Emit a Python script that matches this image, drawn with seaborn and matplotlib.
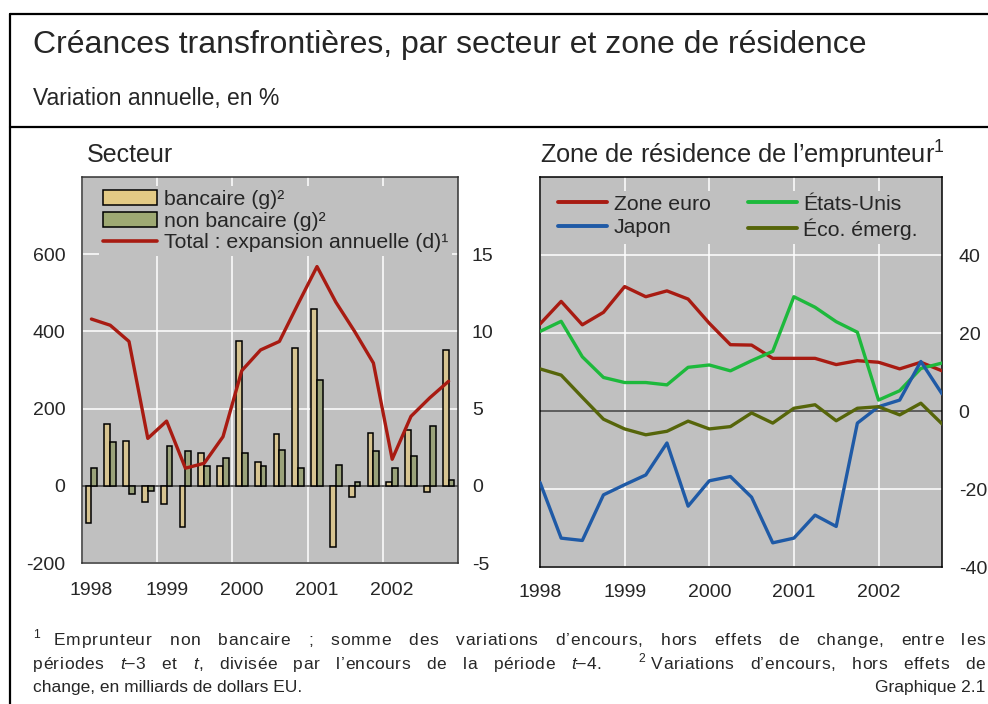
import numpy as np
import pandas as pd
import matplotlib.pyplot as plt
import seaborn as sns
from matplotlib.lines import Line2D
from matplotlib.patches import Patch

# --- données ---
trimestres = list(range(20))  # 1998T1 ... 2002T4
bancaire = [-96, 159, 117, -43, -48, -107, 85, 50, 374, 61,
            133, 357, 457, -158, -29, 137, 9, 144, -17, 352]
non_bancaire = [46, 113, -22, -13, 102, 91, 50, 71, 85, 50,
                93, 46, 274, 55, 9, 91, 46, 77, 155, 15]
total = [10.8, 10.4, 9.35, 3.07, 4.19, 1.14, 1.46, 3.18, 7.46, 8.8,
         9.35, 11.8, 14.2, 11.9, 10.0, 7.95, 1.72, 4.5, 5.7, 6.77]

dates = [1998 + i / 4 for i in range(20)]
zone_euro = [22.3, 28.1, 22.1, 25.3, 31.9, 29.3, 30.8, 28.7, 22.5, 17.0,
             16.9, 13.5, 13.5, 13.5, 11.9, 12.9, 12.5, 10.8, 12.5, 10.3]
etats_unis = [20.4, 23.0, 13.9, 8.6, 7.3, 7.3, 6.7, 11.2, 11.8, 10.3,
              12.9, 15.3, 29.3, 26.6, 22.9, 20.2, 2.8, 5.2, 10.9, 12.3]
japon = [-18.3, -32.6, -33.2, -21.5, -18.9, -16.4, -8.2, -24.4, -17.9, -16.8,
         -22.1, -33.8, -32.6, -26.7, -29.6, -3.1, 1.1, 2.8, 12.7, 4.4]
eco_emerg = [10.8, 9.2, 3.5, -2.1, -4.6, -6.1, -5.2, -2.6, -4.6, -4.0,
             -0.5, -3.1, 0.7, 1.6, -2.5, 0.7, 1.1, -1.0, 2.0, -3.3]

annees = ["1998", "1999", "2000", "2001", "2002"]

ROUGE = "#A81B12"
VERT = "#1DB93C"
BLEU = "#1F5AA6"
OLIVE = "#56650A"
JAUNE = "#E3CA85"
KAKI = "#9EA973"
GRIS = "#C0C0C0"

W, H = 988, 704

sns.set_style("white", {"axes.facecolor": GRIS, "grid.color": "white"})
plt.rcParams['font.family'] = ['Liberation Sans', 'DejaVu Sans']
plt.rcParams['axes.unicode_minus'] = False
plt.rcParams['mathtext.fontset'] = 'custom'
plt.rcParams['mathtext.rm'] = 'Liberation Sans'
plt.rcParams['mathtext.it'] = 'Liberation Sans:italic'
plt.rcParams['mathtext.default'] = 'regular'

fig = plt.figure(figsize=(W / 100, H / 100), dpi=100)


def box(x0, y0, x1, y1):
    # position en pixels (origine en haut à gauche) -> coordonnées figure
    return [x0 / W, 1 - y1 / H, (x1 - x0) / W, (y1 - y0) / H]


def fx(x):
    return x / W


def fy(y):
    return 1 - y / H


# cadre
for (xa, ya, xb, yb) in [(10, 14, 988, 14), (10, 14, 10, 704), (10, 127, 988, 127)]:
    fig.add_artist(Line2D([fx(xa), fx(xb)], [fy(ya), fy(yb)], color="black", lw=1.6))

fig.text(fx(33), fy(45), "Créances transfrontières, par secteur et zone de résidence",
         fontsize=23, va="center", ha="left")
fig.text(fx(33), fy(99), "Variation annuelle, en %", fontsize=16.5, va="center", ha="left")

# ---------------- panneau gauche : Secteur ----------------
ax = fig.add_axes(box(82, 177, 458, 563))
df_bars = pd.DataFrame({
    "q": trimestres * 2,
    "valeur": bancaire + non_bancaire,
    "serie": ["bancaire"] * 20 + ["non bancaire"] * 20,
})
sns.barplot(data=df_bars, x="q", y="valeur", hue="serie",
            palette={"bancaire": JAUNE, "non bancaire": KAKI},
            width=0.62, edgecolor="black", linewidth=1.1,
            errorbar=None, legend=False, ax=ax, zorder=3)
ax.axhline(0, color="#333333", lw=1.1, zorder=2)
ax.set_xlim(-0.5, 19.5)
ax.set_ylim(-200, 800)
ax.set_yticks([-200, 0, 200, 400, 600])
ax.set_xticks([-0.5, 3.5, 7.5, 11.5, 15.5])
ax.set_xticklabels([])
ax.set_xticks([0, 4, 8, 12, 16], minor=True)
ax.set_xticklabels(annees, minor=True)
ax.grid(True, which="major", color="white", lw=1.1)
ax.set_axisbelow(True)
ax.tick_params(which="both", length=0, labelsize=14)
ax.tick_params(axis="y", pad=12)
ax.tick_params(axis="x", which="minor", pad=14)
ax.set_xlabel("")
ax.set_ylabel("")
for s in ax.spines.values():
    s.set_color("#333333")
    s.set_linewidth(1.1)

ax2 = ax.twinx()
sns.lineplot(x=trimestres, y=total, color=ROUGE, lw=2.4, ax=ax2, zorder=4)
ax2.set_ylim(-5, 20)
ax2.set_yticks([-5, 0, 5, 10, 15])
ax2.grid(False)
ax2.tick_params(length=0, labelsize=14, pad=10)
ax2.set_xlabel("")
ax2.set_ylabel("")
for s in ax2.spines.values():
    s.set_visible(False)

handles = [Patch(facecolor=JAUNE, edgecolor="black", lw=1.1),
           Patch(facecolor=KAKI, edgecolor="black", lw=1.1),
           Line2D([], [], color=ROUGE, lw=2.6)]
labels = ["bancaire (g)²", "non bancaire (g)²", "Total : expansion annuelle (d)¹"]
leg = ax2.legend(handles, labels, loc="upper left", bbox_to_anchor=(0.045, 0.977),
                 frameon=True, facecolor=GRIS, edgecolor="none", framealpha=1,
                 fontsize=15.3, handlelength=2.55, handleheight=0.7, handletextpad=0.3,
                 labelspacing=0.12, borderpad=0.2, borderaxespad=0, fancybox=False)

fig.text(fx(87), fy(155), "Secteur", fontsize=18, va="center", ha="left")

# ---------------- panneau droit : zone de résidence ----------------
ax3 = fig.add_axes(box(540, 177, 942, 567))
df_lignes = pd.DataFrame({
    "date": dates * 4,
    "valeur": zone_euro + etats_unis + japon + eco_emerg,
    "zone": ["Zone euro"] * 20 + ["États-Unis"] * 20 + ["Japon"] * 20 + ["Éco. émerg."] * 20,
})
pal = {"Zone euro": ROUGE, "États-Unis": VERT, "Japon": BLEU, "Éco. émerg.": OLIVE}
sns.lineplot(data=df_lignes, x="date", y="valeur", hue="zone", palette=pal,
             lw=2.4, legend=False, ax=ax3, zorder=3)
ax3.axhline(0, color="#333333", lw=1.1, zorder=2)
ax3.set_xlim(1998, 2002.75)
ax3.set_ylim(-40, 60)
ax3.set_xticks([1998, 1999, 2000, 2001, 2002])
ax3.set_xticklabels(annees)
ax3.set_yticks([-40, -20, 0, 20, 40])
ax3.yaxis.tick_right()
ax3.grid(True, color="white", lw=1.1)
ax3.set_axisbelow(True)
ax3.tick_params(length=0, labelsize=14)
ax3.tick_params(axis="y", pad=12)
ax3.tick_params(axis="x", pad=12)
ax3.set_xlabel("")
ax3.set_ylabel("")
for s in ax3.spines.values():
    s.set_color("black")
    s.set_linewidth(1.1)

noms = ["Zone euro", "Japon", "États-Unis", "Éco. émerg."]
h3 = [Line2D([], [], color=pal[n], lw=2.8) for n in noms]
ax3.legend(h3, noms, ncol=2, loc="upper left", bbox_to_anchor=(0.035, 0.965),
           frameon=True, facecolor=GRIS, edgecolor="none", framealpha=1,
           fontsize=15.3, handlelength=2.3, handletextpad=0.3, columnspacing=1.75,
           labelspacing=0.2, borderpad=0.2, borderaxespad=0, fancybox=False)

fig.text(fx(540), fy(155), "Zone de résidence de l’emprunteur$^{1}$",
         fontsize=18.3, va="center", ha="left")

# ---------------- notes ----------------
NOTE_FONT = ['Liberation Sans', 'DejaVu Sans']
NOTE_SIZE = 12.5
renderer = fig.canvas.get_renderer()


def ligne_justifiee(y, mots, x0, x1, poids=None, part_lettres=0.2):
    # mots : listes de morceaux (texte, style) ; l'espace restant est réparti
    # entre les lettres et les espaces pour justifier la ligne
    espace = fig.text(0, 0, "a a", fontsize=NOTE_SIZE, family=NOTE_FONT)
    sans = fig.text(0, 0, "aa", fontsize=NOTE_SIZE, family=NOTE_FONT)
    s = espace.get_window_extent(renderer).width - sans.get_window_extent(renderer).width
    espace.remove()
    sans.remove()
    mots_c = []
    total_w = 0
    n_inter = 0
    for mot in mots:
        lettres = []
        for (t, style) in mot:
            for c in t:
                txt = fig.text(0, fy(y), c, fontsize=NOTE_SIZE, fontstyle=style,
                               family=NOTE_FONT, va="baseline", ha="left")
                w = txt.get_window_extent(renderer).width
                lettres.append((txt, w))
                total_w += w
        n_inter += len(lettres) - 1
        mots_c.append(lettres)
    n = len(mots_c)
    if poids is None:
        poids = [1] * (n - 1)
    reste = (x1 - x0) - total_w - s * sum(poids)
    e = part_lettres * reste / n_inter
    g = (1 - part_lettres) * reste / sum(poids)
    x = x0
    positions = []
    for i, lettres in enumerate(mots_c):
        positions.append(x)
        for j, (txt, w) in enumerate(lettres):
            txt.set_x(fx(x))
            x += w
            if j < len(lettres) - 1:
                x += e
        if i < n - 1:
            x += (s + g) * poids[i]
    return positions


def m(t):
    return [(t, "normal")]


def exposant(x, y, t):
    fig.text(fx(x), fy(y - 7), t, fontsize=NOTE_SIZE * 0.7, family=NOTE_FONT,
             va="baseline", ha="left")


exposant(33, 645, "1")
l1 = [m(t) for t in "Emprunteur non bancaire ; somme des variations d’encours, hors effets de change, entre les".split(" ")]
ligne_justifiee(645, l1, 54, 985, part_lettres=0.22)

l2a = [m("périodes"), [("t", "italic"), ("–3", "normal")], m("et"),
       [("t", "italic"), (",", "normal")], m("divisée"), m("par"),
       m("l’encours"), m("de"), m("la"), m("période"),
       [("t", "italic"), ("–4.", "normal")]]
l2b = [m(t) for t in "Variations d’encours, hors effets de".split(" ")]
pos = ligne_justifiee(669, l2a + l2b, 33, 985, [1] * 10 + [3.0] + [1] * 4, part_lettres=0.15)
exposant(pos[len(l2a)] - 13, 669, "2")

fig.text(fx(33), fy(692), "change, en milliards de dollars EU.", fontsize=NOTE_SIZE,
         family=NOTE_FONT, va="baseline", ha="left")
fig.text(fx(985), fy(692), "Graphique 2.1", fontsize=NOTE_SIZE,
         family=NOTE_FONT, va="baseline", ha="right")

fig.savefig("out.png", dpi=100)
